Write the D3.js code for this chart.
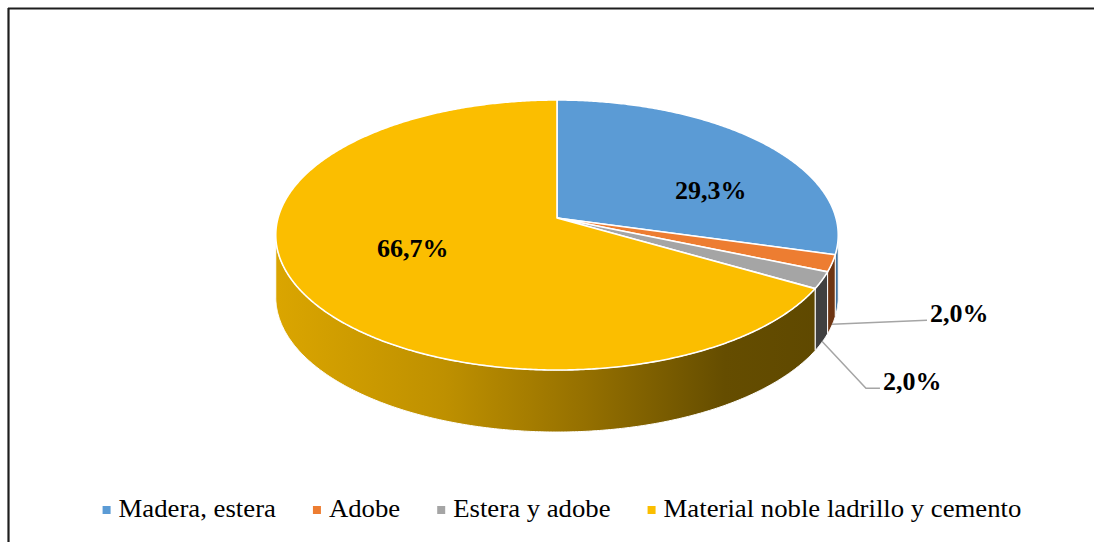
<!DOCTYPE html>
<html>
<head>
<meta charset="utf-8">
<script src="https://cdn.jsdelivr.net/npm/d3@7"></script>
<style>
  html, body { margin: 0; padding: 0; background: #fff; }
  svg { display: block; }
  text { font-family: "Times New Roman", "Liberation Serif", Times, serif; }
</style>
</head>
<body>
<svg id="chart" width="1094" height="542"></svg>
<script>
// Material de las paredes de la vivienda (porcentaje)
const categories = ["Madera, estera", "Adobe", "Estera y adobe", "Material noble ladrillo y cemento"];
const values = [29.3, 2.0, 2.0, 66.7];
const valueLabels = ["29,3%", "2,0%", "2,0%", "66,7%"];

const topColors  = ["#5B9BD5", "#ED7D31", "#A5A5A5", "#FBBE00"];
const sideColors = ["#41729F", "#6E3512", "#404040", null];

const W = 1094, H = 542;
const svg = d3.select("#chart");

// Perspective disk: the centre of the pie sits above the middle of the ellipse
const cx = 557, apexY = 218, rx = 279, persp = 0.126, yScale = 105.4, depth = 62;

function proj(theta, r) {
  const u = r * Math.sin(theta), w = -r * Math.cos(theta);
  const den = 1 - persp * w;
  return [cx + rx * u / den, (apexY + yScale * w) / den];
}

const pie = d3.pie().sort(null).value(d => d);
const arcs = pie(values);

function arcPoints(a0, a1, r) {
  const n = Math.max(2, Math.ceil((a1 - a0) / (Math.PI / 360)));
  const pts = [];
  for (let i = 0; i <= n; i++) pts.push(proj(a0 + (a1 - a0) * i / n, r));
  return pts;
}

const line = d3.line();

// Gradient for the large slice's side wall
const defs = svg.append("defs");
const grad = defs.append("linearGradient")
  .attr("id", "goldSide")
  .attr("gradientUnits", "userSpaceOnUse")
  .attr("x1", cx - rx).attr("x2", cx + rx).attr("y1", 0).attr("y2", 0);
[[0, "#DAA500"], [0.3, "#BE9000"], [0.55, "#957000"], [0.8, "#654D00"], [1, "#5E4800"]]
  .forEach(s => grad.append("stop").attr("offset", s[0]).attr("stop-color", s[1]));

// Frame
svg.append("line").attr("x1", 8).attr("x2", W).attr("y1", 8.5).attr("y2", 8.5)
  .attr("stroke", "#1e1e1e").attr("stroke-width", 2);
svg.append("line").attr("x1", 8.5).attr("x2", 8.5).attr("y1", 8).attr("y2", H)
  .attr("stroke", "#1e1e1e").attr("stroke-width", 2.2);

// Visible front range of the cylinder wall
const thR = Math.acos(-persp), thL = 2 * Math.PI - thR;

const sides = svg.append("g");
arcs.forEach((a, i) => {
  const s0 = Math.max(a.startAngle, thR), s1 = Math.min(a.endAngle, thL);
  if (s1 <= s0) return;
  const topPts = arcPoints(s0, s1, 1);
  const botPts = topPts.map(p => [p[0], p[1] + depth]).reverse();
  sides.append("path")
    .attr("d", line(topPts.concat(botPts)) + "Z")
    .attr("fill", sideColors[i] || "url(#goldSide)")
    .attr("stroke", "#fff").attr("stroke-width", 1).attr("stroke-linejoin", "round");
});

// Top faces
const tops = svg.append("g");
arcs.forEach((a, i) => {
  const pts = [proj(0, 0)].concat(arcPoints(a.startAngle, a.endAngle, 1));
  tops.append("path")
    .attr("d", line(pts) + "Z")
    .attr("fill", topColors[i])
    .attr("stroke", "#fff").attr("stroke-width", 1.6).attr("stroke-linejoin", "round");
});

// Labels inside the large slices
const inner = svg.append("g");
arcs.forEach((a, i) => {
  if (values[i] < 10) return;
  const mid = (a.startAngle + a.endAngle) / 2;
  const x = cx + rx * 0.643 * Math.sin(mid) + 11;
  const y = apexY + 135 * 0.39 * (-Math.cos(mid)) + 4;
  inner.append("text")
    .attr("x", x).attr("y", y).attr("dy", "0.35em")
    .attr("text-anchor", "middle")
    .attr("font-weight", "bold").attr("font-size", 26)
    .attr("fill", "#000")
    .text(valueLabels[i]);
});

// Leader lines for the thin slices, anchored on the outer wall
const leaderOffsets = { 1: [[95, -4]], 2: [[44, 47], [58, 47]] };
const outer = svg.append("g");
arcs.forEach((a, i) => {
  if (values[i] >= 10) return;
  const mid = (a.startAngle + a.endAngle) / 2;
  const p = proj(mid, 1);
  const start = [p[0], p[1] + depth - 1];
  const pts = [start].concat(leaderOffsets[i].map(o => [start[0] + o[0], start[1] + o[1]]));
  outer.append("path")
    .attr("d", line(pts))
    .attr("fill", "none").attr("stroke", "#A5A5A5").attr("stroke-width", 1.5);
  const end = pts[pts.length - 1];
  outer.append("text")
    .attr("x", end[0] + 3).attr("y", end[1] + 2)
    .attr("font-weight", "bold").attr("font-size", 26)
    .attr("fill", "#000")
    .text(valueLabels[i]);
});

// Legend
const stretch = 1.07;
const legend = svg.append("g").attr("transform", "translate(0,517)");
const items = legend.selectAll("g.item").data(categories).join("g").attr("class", "item");
items.append("rect").attr("width", 8).attr("height", 8).attr("y", -11)
  .attr("fill", (d, i) => topColors[i]);
items.append("text")
  .attr("transform", `translate(16,0) scale(${stretch},1)`)
  .attr("font-size", 25).attr("fill", "#000")
  .text(d => d);
let widths = [];
items.each(function () { widths.push(16 + stretch * d3.select(this).select("text").node().getComputedTextLength()); });
const gap = 37;
const total = d3.sum(widths) + gap * (widths.length - 1);
let xPos = 562 - total / 2;
items.each(function (d, i) {
  d3.select(this).attr("transform", `translate(${xPos},0)`);
  xPos += widths[i] + gap;
});
</script>
</body>
</html>
